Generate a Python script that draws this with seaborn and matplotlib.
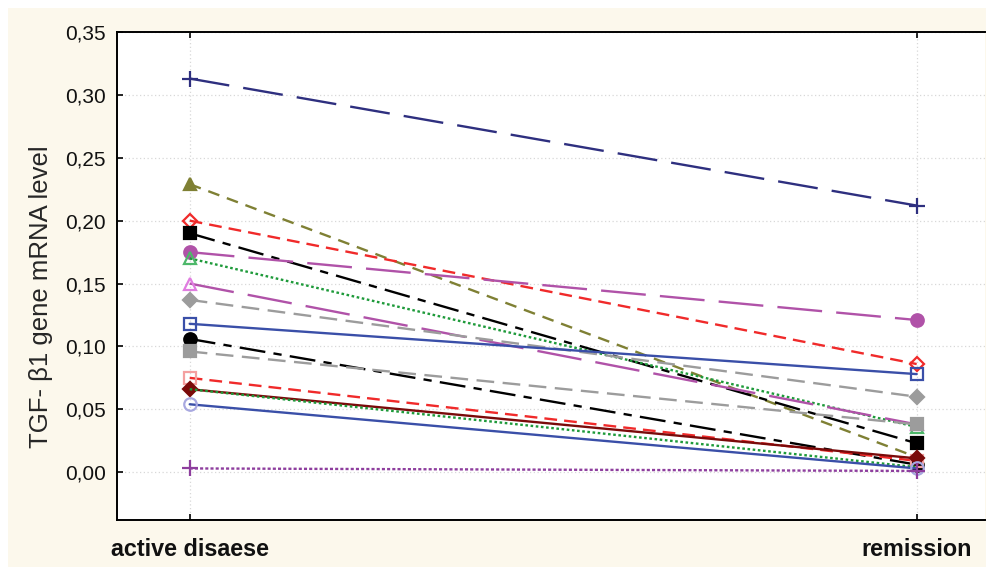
import matplotlib
matplotlib.use("Agg")
import matplotlib.pyplot as plt
import seaborn as sns
import pandas as pd
from matplotlib.patches import Rectangle

# ---------------- data ----------------
stages = ["active disaese", "remission"]
series_names = ["s01", "s02", "s03", "s04", "s05", "s06", "s07", "s08",
                "s09", "s10", "s11", "s12", "s13", "s14", "s15", "s16"]
active_values = [0.313, 0.229, 0.200, 0.190, 0.175, 0.170, 0.150, 0.137,
                 0.118, 0.106, 0.096, 0.075, 0.066, 0.066, 0.054, 0.003]
remission_values = [0.212, 0.012, 0.086, 0.023, 0.121, 0.036, 0.038, 0.060,
                    0.078, 0.006, 0.038, 0.009, 0.011, 0.004, 0.003, 0.001]
y_ticks = [0.00, 0.05, 0.10, 0.15, 0.20, 0.25, 0.30, 0.35]
y_ticklabels = ["0,00", "0,05", "0,10", "0,15", "0,20", "0,25", "0,30", "0,35"]
y_label = "TGF- β1 gene mRNA level"

# styles: (line colour, linestyle, marker, marker face, marker edge, marker size)
styles = {
    "s01": ("#2E2F7F", (0, (17, 6)), "+", "#2E2F7F", "#2E2F7F", 12),
    "s02": ("#7F8034", (0, (5, 3.4)), "^", "#7F8034", "#7F8034", 9),
    "s03": ("#F02A2A", (0, (5.4, 3)), "D", "none", "#F02A2A", 7),
    "s04": ("#000000", (0, (11, 3.5, 3.5, 3.5)), "s", "#000000", "#000000", 8.5),
    "s05": ("#B052A8", (0, (19, 6)), "o", "#B052A8", "#B052A8", 9),
    "s06": ("#1E9A3A", (0, (1.1, 1.1)), "^", "none", "#4DB86A", 8.5),
    "s07": ("#B052A8", (0, (19, 6)), "^", "none", "#E07CE0", 8.5),
    "s08": ("#9C9C9C", (0, (7.5, 3.6)), "D", "#9C9C9C", "#9C9C9C", 7),
    "s09": ("#3A4FA8", "-", "s", "none", "#3A4FA8", 8.5),
    "s10": ("#000000", (0, (11, 3.5, 3.5, 3.5)), "o", "#000000", "#000000", 9),
    "s11": ("#9C9C9C", (0, (7.5, 3.6)), "s", "#9C9C9C", "#9C9C9C", 8.5),
    "s12": ("#F02A2A", (0, (5.4, 3)), "s", "none", "#F4A0A0", 8.5),
    "s13": ("#7A0A0A", "-", "D", "#7A0A0A", "#7A0A0A", 7),
    "s14": ("#1E9A3A", (0, (1.1, 1.1)), None, "none", "#1E9A3A", 0),
    "s15": ("#3A4FA8", "-", "o", "none", "#A8A8E0", 9),
    "s16": ("#8E3E9E", (0, (1.3, 0.9)), "+", "#8E3E9E", "#8E3E9E", 12),
}

rows = []
for name, a, r in zip(series_names, active_values, remission_values):
    rows.append({"series": name, "x": 0, "value": a})
    rows.append({"series": name, "x": 1, "value": r})
df = pd.DataFrame(rows)

# ---------------- figure ----------------
sns.set_theme(style="white")
plt.rcParams["font.family"] = ["Liberation Sans", "DejaVu Sans"]

fig = plt.figure(figsize=(9.86, 5.67), dpi=100, facecolor="white")
fig.patches.append(Rectangle((8 / 986, 0), 1, 1 - 8 / 567, transform=fig.transFigure,
                             facecolor="#FCF8EC", edgecolor="none", zorder=-10))
ax = fig.add_axes([117 / 986, 1 - 520 / 567, (985 - 117) / 986, (520 - 32) / 567])
ax.set_facecolor("white")

for name in series_names:
    col, ls, mk, mfc, mec, ms = styles[name]
    sub = df[df["series"] == name]
    sns.lineplot(data=sub, x="x", y="value", ax=ax, color=col, linestyle=ls,
                 linewidth=1.7, marker=mk, markersize=ms, markerfacecolor=mfc,
                 markeredgecolor=mec, markeredgewidth=1.6, legend=False,
                 zorder=3, clip_on=False)

ax.set_xlim(-0.1, 1.094)
ax.set_ylim(-0.038, 0.35)
ax.set_xticks([0, 1])
ax.set_xticklabels(stages, fontsize=16.8, fontweight="bold")
ax.set_yticks(y_ticks)
ax.set_yticklabels(y_ticklabels, fontsize=15)
ax.set_xlabel("")
ax.set_ylabel(y_label, fontsize=18.5)
ax.yaxis.set_label_coords(-0.074, 0.457)

ax.grid(True, color="#D8D8D8", linestyle=(0, (1, 2)), linewidth=0.9)
ax.set_axisbelow(True)
for side in ["left", "bottom", "top"]:
    ax.spines[side].set_visible(True)
    ax.spines[side].set_color("black")
    ax.spines[side].set_linewidth(1.4)
ax.spines["right"].set_visible(False)
ax.tick_params(axis="both", direction="in", length=4, width=1.2, color="black",
               top=True, left=True, bottom=True, right=False, labelcolor="#111111")
ax.tick_params(axis="x", pad=13)
ax.tick_params(axis="y", pad=8)

fig.savefig("out.png", dpi=100, facecolor=fig.get_facecolor())
